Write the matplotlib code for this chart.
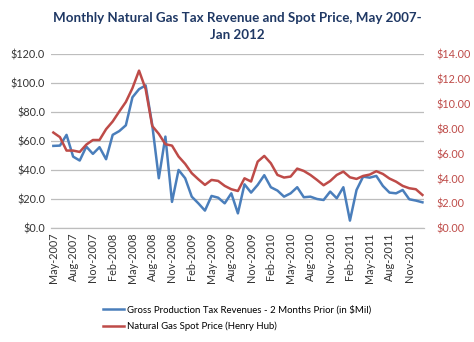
import numpy as np
import pandas as pd
import matplotlib
matplotlib.use("Agg")
import matplotlib.pyplot as plt
from matplotlib.ticker import FuncFormatter

plt.rcParams['font.family'] = ['Lato', 'DejaVu Sans']

months = pd.date_range("2007-05-01", "2012-01-01", freq="MS")

# gross production tax revenue, $ millions (2 months prior)
revenue = [56.8, 57.0, 64.4, 49.4, 46.7, 56.3, 51.3, 55.9, 47.6, 64.4,
           67.0, 71.0, 90.3, 95.9, 98.5, 71.3, 34.5, 63.2, 18.2, 40.2,
           34.5, 21.8, 17.2, 12.2, 22.3, 21.1, 17.2, 24.1, 10.3, 30.3,
           24.6, 29.9, 36.6, 28.3, 26.0, 21.8, 24.1, 28.3, 21.4, 21.8,
           20.2, 19.5, 25.3, 20.7, 28.3, 5.3, 26.4, 35.6, 34.9, 36.1,
           29.2, 24.6, 24.1, 26.4, 20.0, 19.1, 17.9]

# Henry Hub spot price, $/MMBtu
spot = [7.70, 7.33, 6.25, 6.25, 6.14, 6.73, 7.10, 7.10, 7.97, 8.59,
        9.39, 10.16, 11.27, 12.68, 11.20, 8.23, 7.59, 6.76, 6.65, 5.77,
        5.18, 4.43, 3.94, 3.49, 3.89, 3.81, 3.41, 3.14, 3.00, 4.02,
        3.76, 5.36, 5.82, 5.23, 4.29, 4.08, 4.16, 4.80, 4.61, 4.29,
        3.89, 3.46, 3.80, 4.29, 4.56, 4.10, 3.97, 4.21, 4.32, 4.59,
        4.37, 4.00, 3.75, 3.41, 3.22, 3.14, 2.68]

blue = "#4A7EBB"
red = "#BE4B48"
x = np.arange(len(months))

fig = plt.figure(figsize=(4.74, 3.42), dpi=100)
ax = fig.add_axes([0.107, 0.3325, 0.787, 0.509])
ax2 = ax.twinx()

l1, = ax.plot(x, revenue, color=blue, lw=1.8,
              label="Gross Production Tax Revenues - 2 Months Prior (in $Mil)")
l2, = ax2.plot(x, spot, color=red, lw=1.8, label="Natural Gas Spot Price (Henry Hub)")

ax.set_xlim(-0.4, 56.2)
ax.set_ylim(0, 120)
ax2.set_ylim(0, 14)
ax.set_yticks(np.arange(0, 121, 20))
ax2.set_yticks(np.arange(0, 15, 2))
ax.yaxis.set_major_formatter(FuncFormatter(lambda v, p: f"${v:.1f}"))
ax2.yaxis.set_major_formatter(FuncFormatter(lambda v, p: f"${v:.2f}"))
ax.grid(axis="y", color="#BDBDBD", lw=0.9)
ax.set_axisbelow(True)

# a label every third month, May-2007 through Nov-2011
tick_pos = x[::3][:19]
ax.set_xticks(tick_pos)
ax.set_xticklabels([months[i].strftime("%b-%Y") for i in tick_pos],
                   rotation=90, fontsize=7.4)

for a in (ax, ax2):
    for s in ("top", "left", "right"):
        a.spines[s].set_visible(False)
    a.spines["bottom"].set_color("#BDBDBD")
ax.tick_params(axis="both", length=0, labelsize=7.8, colors="#333333", pad=4)
ax.tick_params(axis="x", pad=3)
ax2.tick_params(axis="y", length=0, labelsize=7.8, colors=red, pad=9)

fig.text(0.5, 0.948, "Monthly Natural Gas Tax Revenue and Spot Price, May 2007-",
         ha="center", va="center", fontsize=9.6, fontweight="bold", color="#1F3864")
fig.text(0.5, 0.898, "Jan 2012", ha="center", va="center",
         fontsize=9.6, fontweight="bold", color="#1F3864")

fig.legend(handles=[l1, l2], loc="center", bbox_to_anchor=(0.5, 0.069),
           frameon=False, fontsize=6.9, handlelength=2.2, handletextpad=0.3,
           labelspacing=0.75, alignment="left")

fig.savefig("out.png", dpi=100)
